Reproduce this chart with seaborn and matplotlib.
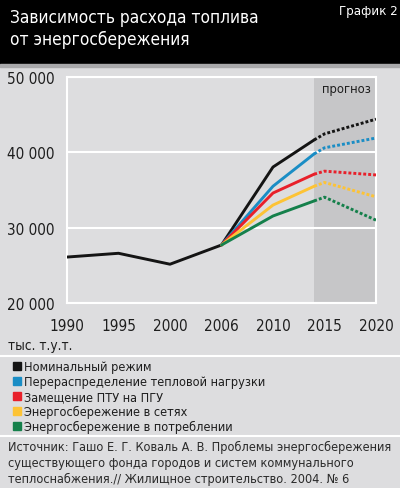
import numpy as np
import pandas as pd
import matplotlib
matplotlib.use('Agg')
import matplotlib.pyplot as plt
from matplotlib.patches import Rectangle
from matplotlib.lines import Line2D
import seaborn as sns

# categories on the x axis (evenly spaced, not to scale)
years = [1990, 1995, 2000, 2006, 2010, 2015, 2020]
# history, common to all scenarios
hist_years = [1990, 1995, 2000]
hist_values = [26100, 26600, 25150]
# scenarios: 2006, 2010, 2014 (end of solid), 2015, 2020
scen_years = [2006, 2010, 2014, 2015, 2020]
nominal = [27700, 38050, 41650, 42450, 44400]
redistribution = [27700, 35500, 39800, 40600, 41900]
replacement = [27700, 34600, 37100, 37500, 37000]
networks = [27700, 33000, 35500, 36000, 34100]
consumption = [27700, 31550, 33550, 34050, 31000]

names = ['Номинальный режим', 'Перераспределение тепловой нагрузки',
         'Замещение ПТУ на ПГУ', 'Энергосбережение в сетях',
         'Энергосбережение в потреблении']
series = [nominal, redistribution, replacement, networks, consumption]
colors = ['#141414', '#1a8dc5', '#e8202a', '#fdc335', '#15804b']
forecast_start = 2014

def pos(y):
    # position of a year on the categorical axis
    return np.interp(y, years, np.arange(len(years)))

rows = []
for y, v in zip(hist_years, hist_values):
    rows.append([names[0], y, v, 'fact'])
for n, vals in zip(names, series):
    for y, v in zip(scen_years, vals):
        if y <= forecast_start:
            rows.append([n, y, v, 'fact'])
        if y >= forecast_start:
            rows.append([n, y, v, 'fcst'])
df = pd.DataFrame(rows, columns=['scenario', 'year', 'value', 'segment'])
df['pos'] = pos(df['year'])

sns.set_style('white')
plt.rcParams['font.family'] = ['DejaVu Sans']
plt.rcParams['font.stretch'] = 'condensed'
bg = '#dddddf'

fig = plt.figure(figsize=(4, 4.89), dpi=100, facecolor=bg)
ax = fig.add_axes([0.1675, 0.3783, 0.7725, 0.4622])
ax.set_facecolor(bg)

ax.axvspan(pos(forecast_start), 6, color='#c6c6c8', zorder=0.2, lw=0)
sns.lineplot(data=df, x='pos', y='value', hue='scenario', style='segment',
             hue_order=names, palette=colors,
             dashes={'fact': '', 'fcst': (1, 0.7)},
             linewidth=2.1, legend=False, ax=ax, zorder=3)

ax.set_xlim(0, 6)
ax.set_ylim(20000, 50000)
ax.set_xticks(range(len(years)))
ax.set_xticklabels([str(y) for y in years])
ax.set_yticks([20000, 30000, 40000, 50000])
ax.set_yticklabels(['20 000', '30 000', '40 000', '50 000'])
ax.set_xlabel('')
ax.set_ylabel('')
ax.set_axisbelow(True)
ax.grid(axis='y', color='white', lw=1.5)
ax.grid(axis='x', visible=False)
for s in ax.spines.values():
    s.set_color('white')
    s.set_linewidth(1.5)
ax.tick_params(axis='y', length=5, width=1.5, color='white', pad=4,
               labelsize=11, labelcolor='#1e1e1e')
ax.tick_params(axis='x', length=5, width=1.5, color='white', pad=6,
               labelsize=11, labelcolor='#1e1e1e')
ax.text(5.42, 49350, 'прогноз', ha='center', va='top', fontsize=9.3, color='#1e1e1e')

# header
fig.patches.append(Rectangle((0, 1 - 65 / 489), 1, 65 / 489, transform=fig.transFigure,
                             color='black', zorder=0))
fig.patches.append(Rectangle((0, 1 - 68 / 489), 1, 3 / 489, transform=fig.transFigure,
                             color='#a9a9ab', zorder=0))
fig.text(0.025, 1 - 9 / 489, 'Зависимость расхода топлива\nот энергосбережения',
         color='white', fontsize=12.4, va='top', ha='left', linespacing=1.3)
fig.text(0.995, 1 - 5 / 489, 'График 2', color='white', fontsize=9.5, va='top', ha='right')

fig.text(0.02, 1 - 346 / 489, 'тыс. т.у.т.', fontsize=9.8, color='#1e1e1e', va='center')
for yy in [357, 437]:
    fig.add_artist(Line2D([0, 1], [1 - yy / 489] * 2, transform=fig.transFigure,
                          color='white', lw=1.5))

handles = [Line2D([], [], marker='s', ls='', color=c, markersize=5.5) for c in colors]
fig.legend(handles, names, loc='upper left', bbox_to_anchor=(0.035, 1 - 361 / 489),
           frameon=False, fontsize=9.1, handlelength=0.5, handletextpad=0.3,
           labelspacing=0.16, borderpad=0, borderaxespad=0, labelcolor='#1e1e1e')

fig.text(0.02, 1 - 441 / 489,
         'Источник: Гашо Е. Г. Коваль А. В. Проблемы энергосбережения\n'
         'существующего фонда городов и систем коммунального\n'
         'теплоснабжения.// Жилищное строительство. 2004. № 6',
         fontsize=9.1, color='#2a2a2a', va='top', linespacing=1.28)

fig.savefig('out.png', dpi=100, facecolor=bg)
